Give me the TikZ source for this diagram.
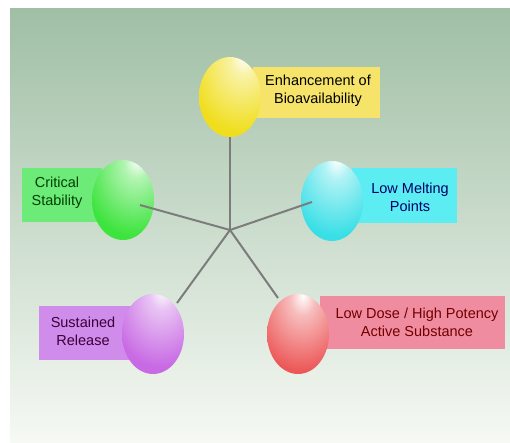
\documentclass[tikz,border=0pt]{standalone}
\usepackage{fontspec}
\setmainfont{Liberation Sans}
\usetikzlibrary{shapes.geometric}
\definecolor{yelB}{HTML}{F0DE1E}
\definecolor{yelL}{HTML}{F6E46A}
\definecolor{grnB}{HTML}{3EE43E}
\definecolor{grnL}{HTML}{6CEB78}
\definecolor{cyaB}{HTML}{38DFE6}
\definecolor{cyaL}{HTML}{5CEDF2}
\definecolor{purB}{HTML}{C86AE4}
\definecolor{purL}{HTML}{D08CEB}
\definecolor{redB}{HTML}{EC5858}
\definecolor{redL}{HTML}{F08CA0}
\definecolor{bgTop}{HTML}{A0BFA5}
\definecolor{bgMid}{HTML}{D6E1D6}
\definecolor{bgBot}{HTML}{F6F9F4}
\definecolor{spoke}{HTML}{7C7C7C}
\pgfdeclareradialshading{ballY}{\pgfpoint{12bp}{26bp}}{color(0bp)=(white); color(10bp)=(yelB!40!white); color(38bp)=(yelB); color(80bp)=(yelB!96!black); color(100bp)=(yelB!94!black)}
\pgfdeclareradialshading{ballG}{\pgfpoint{12bp}{26bp}}{color(0bp)=(white); color(10bp)=(grnB!40!white); color(38bp)=(grnB); color(80bp)=(grnB!96!black); color(100bp)=(grnB!94!black)}
\pgfdeclareradialshading{ballC}{\pgfpoint{4bp}{26bp}}{color(0bp)=(white); color(10bp)=(cyaB!40!white); color(38bp)=(cyaB); color(80bp)=(cyaB!96!black); color(100bp)=(cyaB!94!black)}
\pgfdeclareradialshading{ballP}{\pgfpoint{8bp}{28bp}}{color(0bp)=(white); color(10bp)=(purB!40!white); color(38bp)=(purB); color(80bp)=(purB!96!black); color(100bp)=(purB!94!black)}
\pgfdeclareradialshading{ballR}{\pgfpoint{4bp}{24bp}}{color(0bp)=(white); color(10bp)=(redB!40!white); color(38bp)=(redB); color(80bp)=(redB!96!black); color(100bp)=(redB!94!black)}
\tikzset{
  lab/.style={rectangle, draw=none, inner sep=0pt},
  txt/.style={align=center, inner sep=0pt, font=\fontsize{14.5}{18}\selectfont},
  ballnode/.style={ellipse, draw=none, inner sep=0pt, minimum width=62, minimum height=80},
  spokeline/.style={draw=spoke, line width=2pt}
}
\begin{document}
\begin{tikzpicture}[x=1pt,y=-1pt]
\useasboundingbox (0,0) rectangle (510,443);
\fill[white] (0,0) rectangle (510,443);
\shade[top color=bgTop, middle color=bgMid, bottom color=bgBot] (10,9) rectangle (510,443);
% labels
\node[lab, fill=yelL, minimum width=127, minimum height=51] (yl) at (316.5,92.5) {};
\node[lab, fill=grnL, minimum width=80, minimum height=54] (gl) at (62,195) {};
\node[lab, fill=cyaL, minimum width=105, minimum height=55] (cl) at (404.5,195.5) {};
\node[lab, fill=purL, minimum width=96, minimum height=54] (pl) at (87,333) {};
\node[lab, fill=redL, minimum width=185, minimum height=53] (rl) at (412.5,322.5) {};
\node[txt, text=black] (yt) at (318,91) {Enhancement of\\Bioavailability};
\node[txt, text=green!25!black] (gt) at (57,192.5) {Critical\\Stability};
\node[txt, text=blue!40!black] (ct) at (410,197.5) {Low Melting\\Points};
\node[txt, text=violet!45!black] (pt) at (83,331.5) {Sustained\\Release};
\node[txt, text=red!45!black] (rt) at (417,322.5) {Low Dose / High Potency\\Active Substance};
% balls
\node[ballnode, shading=ballY] (yb) at (230,97) {};
\node[ballnode, shading=ballG] (gb) at (123,200) {};
\node[ballnode, shading=ballC] (cb) at (332,201) {};
\node[ballnode, shading=ballP] (pb) at (153,334) {};
\node[ballnode, shading=ballR] (rb) at (298,334) {};
% hub and spoke ends
\coordinate (hub) at (230,230);
\coordinate (ye) at (yb.south);
\coordinate (ge) at ([shift={(17,5)}]gb.center);
\coordinate (ce) at ([shift={(-20,1)}]cb.center);
\coordinate (pe) at ([shift={(24,-31)}]pb.center);
\coordinate (re) at ([shift={(-20,-36)}]rb.center);
\draw[spokeline] (hub) -- (ye);
\draw[spokeline] (hub) -- (ge);
\draw[spokeline] (hub) -- (ce);
\draw[spokeline] (hub) -- (pe);
\draw[spokeline] (hub) -- (re);
\end{tikzpicture}
\end{document}
